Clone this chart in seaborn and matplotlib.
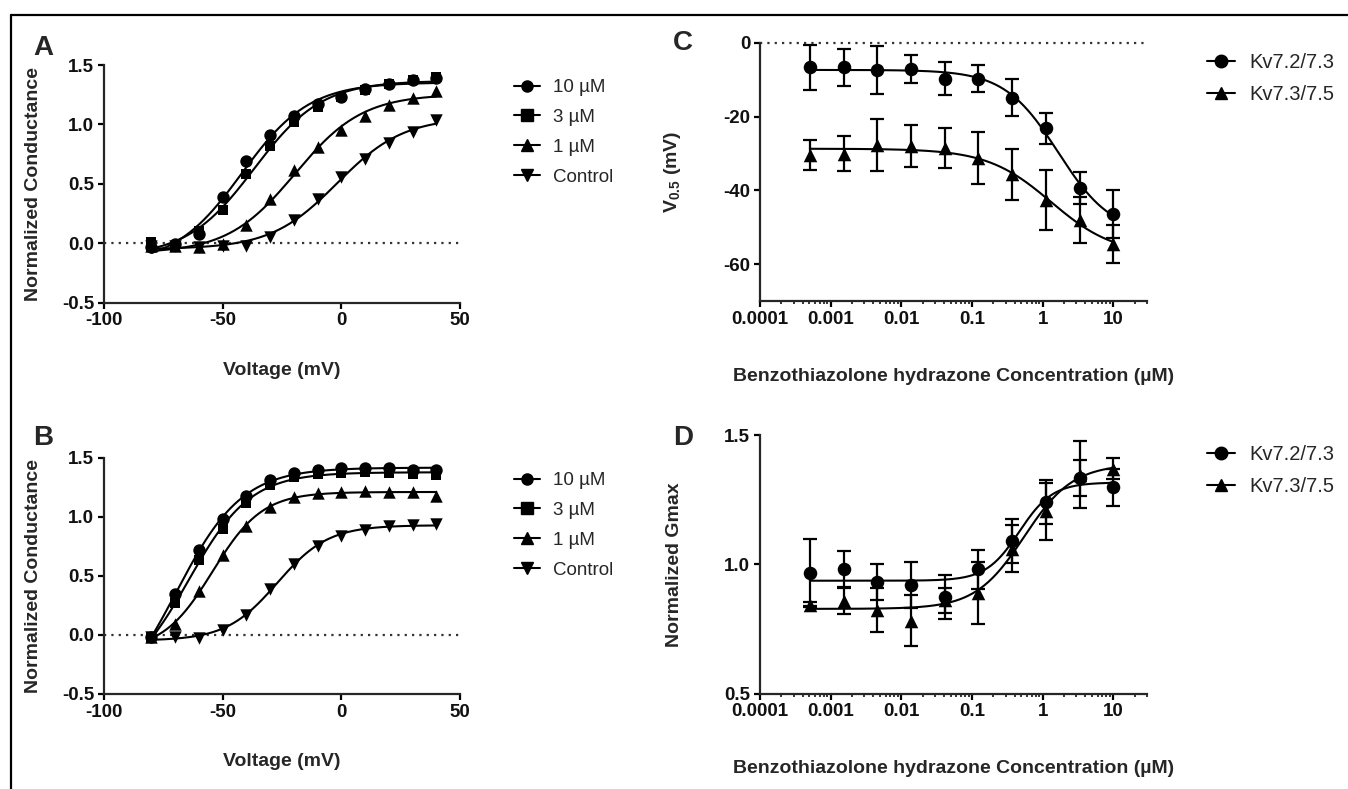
import numpy as np
import pandas as pd
import seaborn as sns
import matplotlib
matplotlib.use("Agg")
import matplotlib.pyplot as plt
from matplotlib.lines import Line2D
from matplotlib.ticker import NullFormatter, FormatStrFormatter

# ---- data ----
voltages = [-80, -70, -60, -50, -40, -30, -20, -10, 0, 10, 20, 30, 40]

# panel A : normalized conductance
a_10uM = [-0.03, -0.01, 0.08, 0.39, 0.69, 0.91, 1.07, 1.17, 1.23, 1.30, 1.34, 1.37, 1.39]
a_3uM = [0.01, -0.02, 0.10, 0.28, 0.58, 0.82, 1.02, 1.15, 1.23, 1.29, 1.34, 1.37, 1.40]
a_1uM = [-0.02, -0.02, -0.03, -0.01, 0.15, 0.37, 0.62, 0.81, 0.95, 1.07, 1.16, 1.22, 1.28]
a_ctrl = [-0.02, -0.02, -0.03, -0.02, -0.02, 0.05, 0.20, 0.37, 0.56, 0.71, 0.84, 0.94, 1.04]

# panel B : normalized conductance
b_10uM = [-0.02, 0.35, 0.72, 0.98, 1.18, 1.31, 1.37, 1.40, 1.41, 1.41, 1.41, 1.40, 1.40]
b_3uM = [-0.03, 0.27, 0.63, 0.90, 1.12, 1.27, 1.34, 1.36, 1.37, 1.38, 1.37, 1.36, 1.35]
b_1uM = [-0.02, 0.09, 0.37, 0.68, 0.92, 1.08, 1.17, 1.20, 1.21, 1.22, 1.21, 1.21, 1.18]
b_ctrl = [-0.02, -0.02, -0.03, 0.04, 0.17, 0.39, 0.60, 0.75, 0.84, 0.89, 0.92, 0.93, 0.94]

conc_labels = ["10 µM", "3 µM", "1 µM", "Control"]

# panels C and D : concentration (µM)
conc = [0.000508, 0.00152, 0.00457, 0.0137, 0.0412, 0.123, 0.370, 1.11, 3.33, 10.0]

c_kv23 = [-6.7, -6.7, -7.4, -7.1, -9.7, -9.7, -14.9, -23.2, -39.3, -46.4]
c_kv23_err = [6.0, 5.0, 6.5, 3.8, 4.5, 3.7, 5.0, 4.3, 4.3, 6.6]
c_kv35 = [-30.4, -30.0, -27.7, -28.0, -28.6, -31.3, -35.6, -42.6, -48.0, -54.5]
c_kv35_err = [4.0, 4.7, 7.0, 5.6, 5.4, 7.0, 6.9, 8.2, 6.2, 5.2]

d_kv23 = [0.968, 0.981, 0.930, 0.920, 0.872, 0.981, 1.090, 1.240, 1.333, 1.297]
d_kv23_err = [0.13, 0.07, 0.07, 0.09, 0.085, 0.075, 0.085, 0.085, 0.07, 0.07]
d_kv35 = [0.844, 0.859, 0.823, 0.782, 0.860, 0.887, 1.060, 1.205, 1.346, 1.370]
d_kv35_err = [0.01, 0.05, 0.085, 0.10, 0.05, 0.12, 0.09, 0.11, 0.13, 0.04]

channel_labels = ["Kv7.2/7.3", "Kv7.3/7.5"]


# sigmoid fit (grid search on centre/slope, least squares on bottom/top)
def fit_sigmoid(x, y, centres, slopes, log_hill=False):
    x = np.asarray(x, float)
    y = np.asarray(y, float)
    cc, ss = np.meshgrid(centres, slopes)
    cc = cc.ravel()[:, None]
    ss = ss.ravel()[:, None]

    def shape(xv):
        if log_hill:
            return 1.0 / (1.0 + 10.0 ** ((cc - xv) * ss))
        return 1.0 / (1.0 + np.exp((cc - xv) / ss))

    f = shape(x[None, :])
    fm = f.mean(1, keepdims=True)
    ym = y.mean()
    b = ((f - fm) * (y - ym)).sum(1, keepdims=True) / (((f - fm) ** 2).sum(1, keepdims=True) + 1e-12)
    a = ym - b * fm
    res = ((a + b * f - y) ** 2).sum(1)
    i = np.argmin(res)
    xs = np.linspace(x.min(), x.max(), 300)
    fs = shape(xs[None, :])[i]
    return xs, a[i, 0] + b[i, 0] * fs


sns.set_style("ticks")
plt.rcParams["font.family"] = ["Liberation Sans", "DejaVu Sans"]
plt.rcParams["font.weight"] = "bold"
plt.rcParams["axes.unicode_minus"] = False
plt.rcParams["mathtext.fontset"] = "custom"
plt.rcParams["mathtext.bf"] = "Liberation Sans:bold"
plt.rcParams["mathtext.rm"] = "Liberation Sans"

W, H = 1348, 789
fig = plt.figure(figsize=(W / 100, H / 100), dpi=100)


def px_rect(l, t, r, b):
    return [l / W, 1 - b / H, (r - l) / W, (b - t) / H]


axA = fig.add_axes(px_rect(104, 65, 460, 302.7))
axB = fig.add_axes(px_rect(104, 457.7, 460, 694))
axC = fig.add_axes(px_rect(760, 42.7, 1147, 301.3))
axD = fig.add_axes(px_rect(760, 435, 1147, 693.5))

markers4 = ["o", "s", "^", "v"]
sizes4 = [80, 62, 80, 80]
markers2 = ["o", "^"]
sizes2 = [95, 95]
dot_ls = (0, (1, 2.3))


def style_axis(ax):
    sns.despine(ax=ax)
    for sp in ["left", "bottom"]:
        ax.spines[sp].set_linewidth(1.6)
    ax.tick_params(which="major", direction="out", length=4.5, width=1.6,
                   labelsize=13.5, pad=2.5, color="black", labelcolor="#111111")
    ax.tick_params(which="minor", direction="out", length=2.5, width=1.3)


# ---- panels A and B ----
for ax, series, letter in [(axA, [a_10uM, a_3uM, a_1uM, a_ctrl], "A"),
                           (axB, [b_10uM, b_3uM, b_1uM, b_ctrl], "B")]:
    ax.axhline(0, color="#333333", lw=1.6, ls=dot_ls, zorder=0)
    for vals, m, s in zip(series, markers4, sizes4):
        xs, ys = fit_sigmoid(voltages, vals, np.arange(-80, 40.01, 0.25), np.arange(2, 30.01, 0.25))
        sns.lineplot(x=xs, y=ys, color="black", lw=1.5, ax=ax, legend=False)
        sns.scatterplot(x=voltages, y=vals, marker=m, s=s, color="black",
                        edgecolor="black", linewidth=0, ax=ax, legend=False, zorder=3)
    ax.set_xlim(-100, 50)
    ax.set_ylim(-0.5, 1.5)
    ax.set_xticks([-100, -50, 0, 50])
    ax.set_yticks([-0.5, 0.0, 0.5, 1.0, 1.5])
    ax.yaxis.set_major_formatter(FormatStrFormatter("%.1f"))
    style_axis(ax)
    ax.set_xlabel("Voltage (mV)", fontsize=14, fontweight="bold")
    ax.set_ylabel("Normalized Conductance", fontsize=14, fontweight="bold")
    ax.yaxis.set_label_coords(-0.175, 0.5)
    ax.xaxis.set_label_coords(0.5, -0.25)

    handles = [Line2D([], [], color="black", lw=1.5, marker=m, markersize=8)
               for m in markers4]
    top = 79 if letter == "A" else 472
    ax.legend(handles, conc_labels, loc="upper left", frameon=False,
              bbox_to_anchor=(514 / W, 1 - top / H), bbox_transform=fig.transFigure,
              borderpad=0, borderaxespad=0, handlelength=1.4, handletextpad=0.7,
              labelspacing=0.68, prop={"size": 13.5, "weight": "normal"})

# ---- panels C and D ----
panels_cd = [
    (axC, [(c_kv23, c_kv23_err), (c_kv35, c_kv35_err)], "C"),
    (axD, [(d_kv23, d_kv23_err), (d_kv35, d_kv35_err)], "D"),
]
for ax, series, letter in panels_cd:
    if letter == "C":
        ax.axhline(0, color="#333333", lw=1.6, ls=dot_ls, zorder=0, clip_on=False)
    for (vals, err), m, s in zip(series, markers2, sizes2):
        lxs, ys = fit_sigmoid(np.log10(conc), vals, np.arange(-3, 1.5, 0.01),
                              np.arange(0.3, 3.0, 0.02), log_hill=True)
        sns.lineplot(x=10 ** lxs, y=ys, color="black", lw=1.5, ax=ax, legend=False)
        ax.errorbar(conc, vals, yerr=err, fmt="none", ecolor="black",
                    elinewidth=1.6, capsize=5, capthick=1.6, zorder=2)
        sns.scatterplot(x=conc, y=vals, marker=m, s=s, color="black",
                        edgecolor="black", linewidth=0, ax=ax, legend=False, zorder=3)
    ax.set_xscale("log")
    ax.set_xlim(1e-4, 30)
    ax.set_xticks([1e-4, 1e-3, 1e-2, 1e-1, 1, 10])
    ax.set_xticklabels(["0.0001", "0.001", "0.01", "0.1", "1", "10"])
    ax.xaxis.set_minor_formatter(NullFormatter())
    if letter == "C":
        ax.set_ylim(-70, 0)
        ax.set_yticks([-60, -40, -20, 0])
        ax.set_ylabel(r"$\mathbf{V_{0.5}}$ (mV)", fontsize=14, fontweight="bold")
        top = 53
    else:
        ax.set_ylim(0.5, 1.5)
        ax.set_yticks([0.5, 1.0, 1.5])
        ax.yaxis.set_major_formatter(FormatStrFormatter("%.1f"))
        ax.set_ylabel("Normalized Gmax", fontsize=14, fontweight="bold")
        top = 445
    style_axis(ax)
    ax.set_xlabel("Benzothiazolone hydrazone Concentration (µM)", fontsize=14, fontweight="bold")
    ax.yaxis.set_label_coords(-0.199, 0.5)
    ax.xaxis.set_label_coords(0.5, -0.258)

    handles = [Line2D([], [], color="black", lw=1.5, marker=m, markersize=9)
               for m in markers2]
    ax.legend(handles, channel_labels, loc="upper left", frameon=False,
              bbox_to_anchor=(1207 / W, 1 - top / H), bbox_transform=fig.transFigure,
              borderpad=0, borderaxespad=0, handlelength=1.4, handletextpad=0.7,
              labelspacing=0.63, prop={"size": 14.5, "weight": "normal"})

# panel letters
for letter, (x, y) in {"A": (43, 48), "B": (43, 438), "C": (683, 43), "D": (683, 438)}.items():
    fig.text(x / W, 1 - y / H, letter, ha="center", va="center", fontsize=20, fontweight="bold")

# figure border (open on the right and bottom, as in the source)
fig.add_artist(Line2D([11 / W, 11 / W], [0, 1 - 15 / H], color="black", lw=1.6,
                      transform=fig.transFigure))
fig.add_artist(Line2D([11 / W, 1], [1 - 15 / H, 1 - 15 / H], color="black", lw=1.6,
                      transform=fig.transFigure))

fig.savefig("out.png", dpi=100)
